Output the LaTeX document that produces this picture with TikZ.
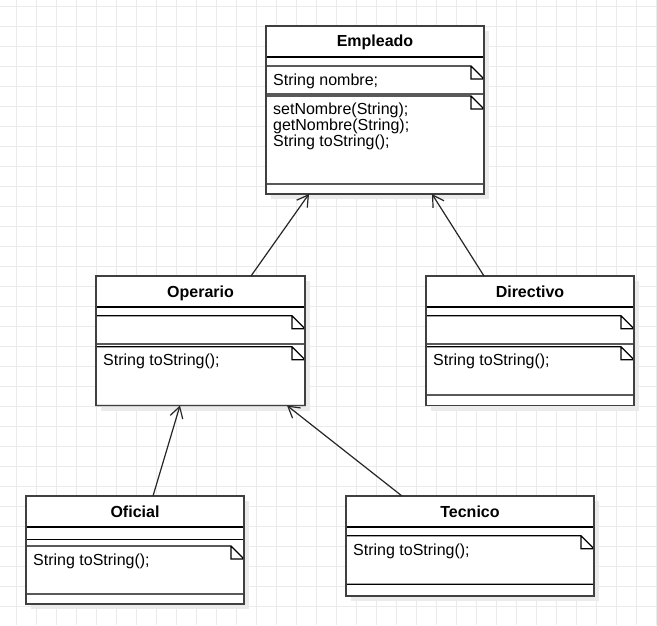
\documentclass[tikz,border=0pt]{standalone}
\usepackage{fontspec}
\setmainfont{Liberation Sans}
\usetikzlibrary{positioning, arrows.meta, shadows}

\begin{document}
\begin{tikzpicture}[
x=1pt, y=-1pt,
umlclass/.style={rectangle,
  fill=white,
  inner sep=0pt, outer sep=0pt,
  anchor=north west,
  drop shadow={shadow xshift=5pt, shadow yshift=-5pt, fill=black!8, opacity=1}
},
classname/.style={anchor=base,
  font=\fontsize{16pt}{16pt}\selectfont\bfseries
},
notebox/.style={rectangle,
  inner sep=0pt, outer sep=0pt,
  anchor=north west
},
member/.style={anchor=base west,
  align=left,
  inner sep=0pt,
  font=\fontsize{16pt}{14.6pt}\selectfont
},
sepline/.style={line width=1.2pt, black},
noteline/.style={line width=1.2pt, black},
classline/.style={line width=1.6pt, black!75},
gridline/.style={line width=1pt, black!8},
inherit/.style={-{Straight Barb[length=11pt, width=13pt]}, line width=1.2pt, black!85},
]

% background grid
\fill[white] (0,0) rectangle (657,625);
\useasboundingbox (0,0) rectangle (657,625);
\foreach \gx in {16,36,...,656}
  \draw[gridline] (\gx,0) -- (\gx,625);
\foreach \gy in {6,26,...,606}
  \draw[gridline] (0,\gy) -- (657,\gy);

% classes
\node[umlclass, minimum width=218pt, minimum height=168pt] (emp) at (266,26) {};
\node[umlclass, minimum width=209pt, minimum height=129.5pt] (oper) at (96,276) {};
\node[umlclass, minimum width=208pt, minimum height=129.5pt] (dir) at (426,276) {};
\node[umlclass, minimum width=218pt, minimum height=108pt] (ofi) at (26,496) {};
\node[umlclass, minimum width=248pt, minimum height=100pt] (tec) at (346,496) {};

\node[classname] (empname) at ([yshift=-20.7pt]emp.north) {Empleado};
\node[classname] (opername) at ([yshift=-21pt]oper.north) {Operario};
\node[classname] (dirname) at ([yshift=-21pt]dir.north) {Directivo};
\node[classname] (ofiname) at ([yshift=-21pt]ofi.north) {Oficial};
\node[classname] (tecname) at ([yshift=-21pt]tec.north) {Tecnico};

\foreach \c in {emp,oper,dir,ofi,tec}
  \draw[sepline] ([yshift=-31pt]\c.north west) -- ([yshift=-31pt]\c.north east);
\draw[sepline] ([yshift=-43.3pt]ofi.north west) -- ([yshift=-43.3pt]ofi.north east);

% notes
\node[notebox, minimum width=218pt, minimum height=28pt] (empattr) at ([yshift=-40pt]emp.north west) {};
\node[notebox, minimum width=218pt, minimum height=88pt] (empmeth) at ([yshift=-70pt]emp.north west) {};
\node[notebox, minimum width=209pt, minimum height=28.3pt] (operattr) at ([yshift=-39.7pt]oper.north west) {};
\node[notebox, minimum width=209pt, minimum height=58.8pt] (opermeth) at ([yshift=-70.7pt]oper.north west) {};
\node[notebox, minimum width=208pt, minimum height=28.3pt] (dirattr) at ([yshift=-39.7pt]dir.north west) {};
\node[notebox, minimum width=208pt, minimum height=48.3pt] (dirmeth) at ([yshift=-70.7pt]dir.north west) {};
\node[notebox, minimum width=218pt, minimum height=48pt] (ofimeth) at ([yshift=-50pt]ofi.north west) {};
\node[notebox, minimum width=248pt, minimum height=48.6pt] (tecmeth) at ([yshift=-39.7pt]tec.north west) {};

\foreach \n in {empattr,empmeth,operattr,opermeth,dirattr,dirmeth,ofimeth,tecmeth}
  \draw[noteline] (\n.north west) -- ([xshift=-13pt]\n.north east) -- ([yshift=-13pt]\n.north east)
    |- (\n.south west) -- cycle
    ([xshift=-13pt]\n.north east) |- ([yshift=-13pt]\n.north east);

\node[member] (empattrtxt) at ([xshift=7pt, yshift=-19pt]empattr.north west) {String nombre;};
\node[member] (empmethtxt) at ([xshift=7pt, yshift=-50.5pt]empmeth.north west)
    {setNombre(String);\\getNombre(String);\\String toString();};
\node[member] (opermethtxt) at ([xshift=7pt, yshift=-18.3pt]opermeth.north west) {String toString();};
\node[member] (dirmethtxt) at ([xshift=7pt, yshift=-18.3pt]dirmeth.north west) {String toString();};
\node[member] (ofimethtxt) at ([xshift=7pt, yshift=-19pt]ofimeth.north west) {String toString();};
\node[member] (tecmethtxt) at ([xshift=7pt, yshift=-19.3pt]tecmeth.north west) {String toString();};

\foreach \c in {emp,oper,dir,ofi,tec}
  \draw[classline] (\c.north west) rectangle (\c.south east);

% inheritance
\draw[inherit] ([xshift=155pt]oper.north west) -- ([xshift=43pt]emp.south west);
\draw[inherit] ([xshift=58pt]dir.north west) -- ([xshift=166pt]emp.south west);
\draw[inherit] ([xshift=127pt]ofi.north west) -- ([xshift=84pt]oper.south west);
\draw[inherit] ([xshift=56pt]tec.north west) -- ([xshift=191pt]oper.south west);
\end{tikzpicture}
\end{document}
